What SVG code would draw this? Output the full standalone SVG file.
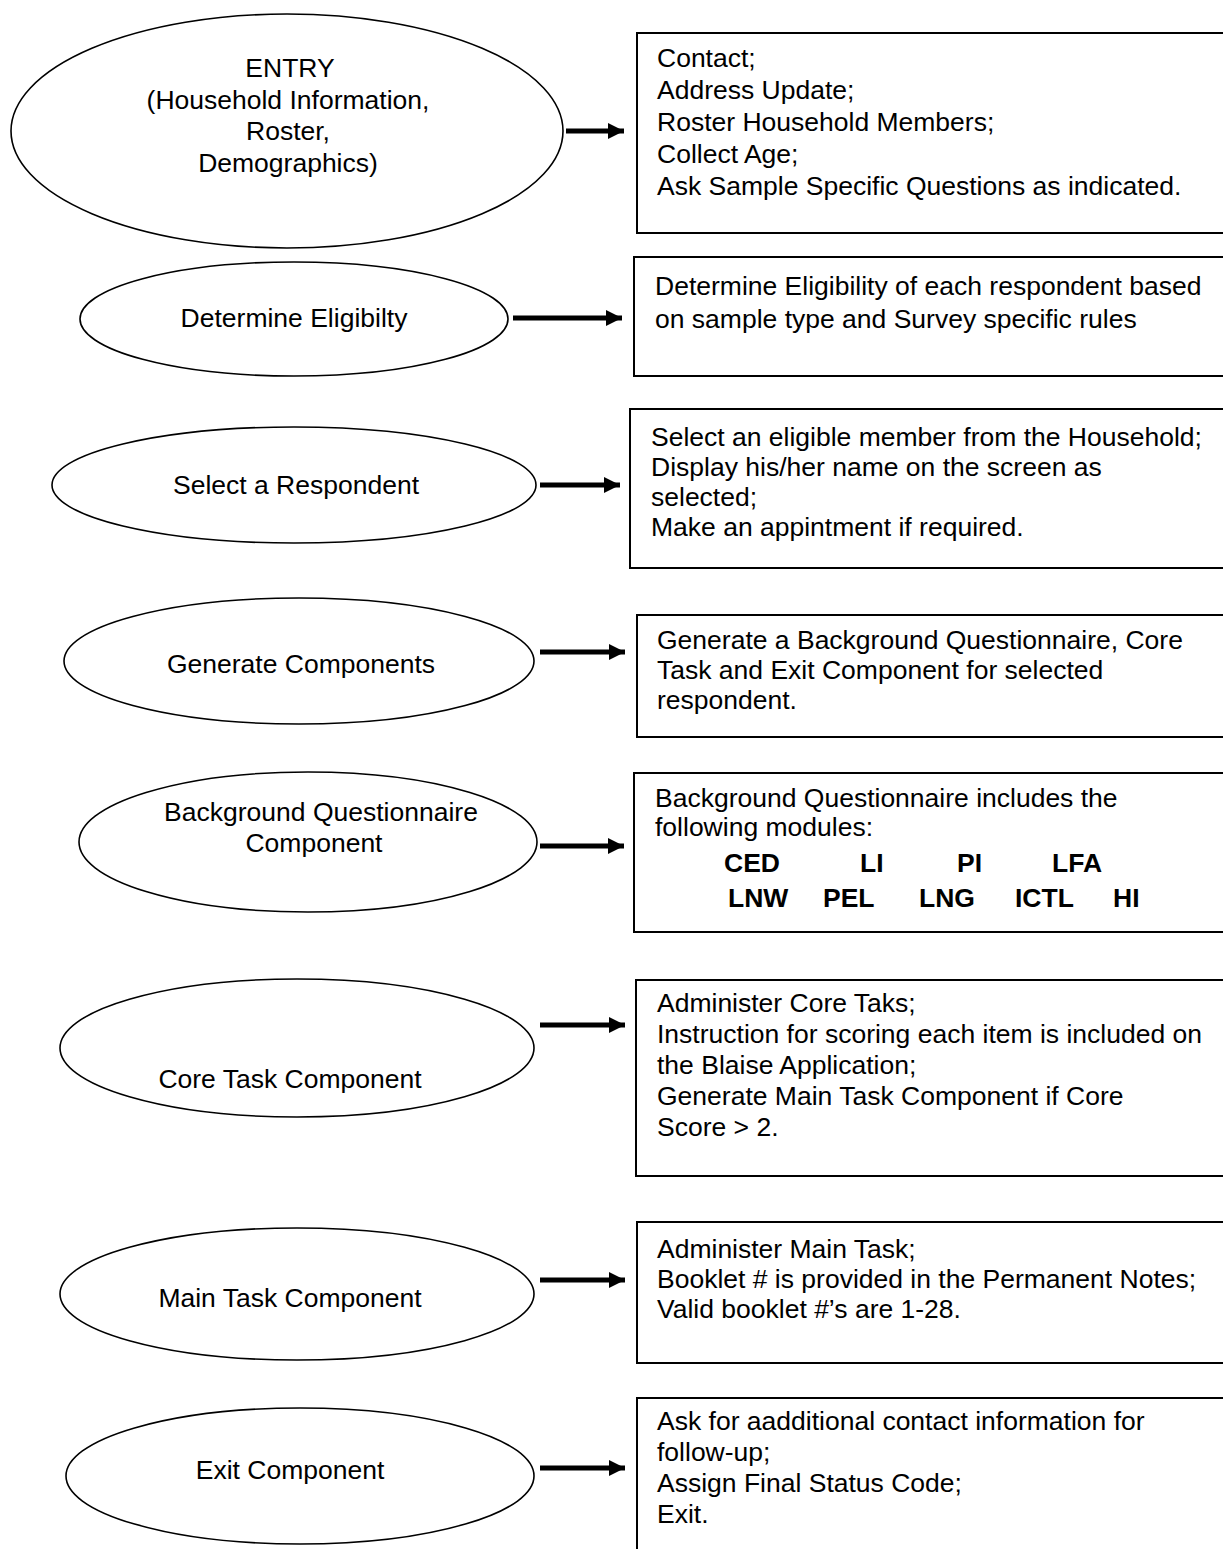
<svg xmlns="http://www.w3.org/2000/svg" width="1223" height="1549" viewBox="0 0 1223 1549">
<defs>
<marker id="ah" markerUnits="userSpaceOnUse" markerWidth="18" markerHeight="16" refX="16" refY="8" orient="auto">
<path d="M0,0 L16,8 L0,16 Z" fill="#000"/>
</marker>
<style>
.e{fill:#fff;stroke:#000;stroke-width:1.6}
.b{fill:#fff;stroke:#000;stroke-width:2}
.t{font-family:"Liberation Sans",Arial,sans-serif;font-size:26.5px;fill:#000}
.c{text-anchor:middle}
.bd{font-weight:bold}
.a{stroke:#000;stroke-width:5;fill:none}
</style>
</defs>
<rect width="1223" height="1549" fill="#fff"/>

<g id="n1">
<ellipse class="e" cx="287" cy="131" rx="276" ry="117"/>
<text class="t c" x="290" y="77">ENTRY</text>
<text class="t c" x="288" y="109">(Household Information,</text>
<text class="t c" x="288" y="140">Roster,</text>
<text class="t c" x="288" y="172">Demographics)</text>
</g>
<g id="b1">
<rect class="b" x="637" y="33" width="620" height="200"/>
<text class="t" x="657" y="67">Contact;</text>
<text class="t" x="657" y="99">Address Update;</text>
<text class="t" x="657" y="131">Roster Household Members;</text>
<text class="t" x="657" y="163">Collect Age;</text>
<text class="t" x="657" y="195">Ask Sample Specific Questions as indicated.</text>
</g>

<g id="n2">
<ellipse class="e" cx="294" cy="319" rx="214" ry="57"/>
<text class="t c" x="294" y="327">Determine Eligibilty</text>
</g>
<g id="b2">
<rect class="b" x="634" y="257" width="620" height="119"/>
<text class="t" x="655" y="295">Determine Eligibility of each respondent based</text>
<text class="t" x="655" y="328">on sample type and Survey specific rules</text>
</g>

<g id="n3">
<ellipse class="e" cx="294" cy="485" rx="242" ry="58"/>
<text class="t c" x="296" y="494">Select a Respondent</text>
</g>
<g id="b3">
<rect class="b" x="630" y="409" width="620" height="159"/>
<text class="t" x="651" y="446">Select an eligible member from the Household;</text>
<text class="t" x="651" y="476">Display his/her name on the screen as</text>
<text class="t" x="651" y="506">selected;</text>
<text class="t" x="651" y="536">Make an appintment if required.</text>
</g>

<g id="n4">
<ellipse class="e" cx="299" cy="661" rx="235" ry="63"/>
<text class="t c" x="301" y="673">Generate Components</text>
</g>
<g id="b4">
<rect class="b" x="637" y="615" width="620" height="122"/>
<text class="t" x="657" y="649">Generate a Background Questionnaire, Core</text>
<text class="t" x="657" y="679">Task and Exit Component for selected</text>
<text class="t" x="657" y="709">respondent.</text>
</g>

<g id="n5">
<ellipse class="e" cx="308" cy="842" rx="229" ry="70"/>
<text class="t c" x="321" y="821">Background Questionnaire</text>
<text class="t c" x="314" y="852">Component</text>
</g>
<g id="b5">
<rect class="b" x="634" y="773" width="620" height="159"/>
<text class="t" x="655" y="807">Background Questionnaire includes the</text>
<text class="t" x="655" y="836">following modules:</text>
<text class="t bd" y="872"><tspan x="724">CED</tspan><tspan x="860">LI</tspan><tspan x="957">PI</tspan><tspan x="1052">LFA</tspan></text>
<text class="t bd" y="907"><tspan x="728">LNW</tspan><tspan x="823">PEL</tspan><tspan x="919">LNG</tspan><tspan x="1015">ICTL</tspan><tspan x="1113">HI</tspan></text>
</g>

<g id="n6">
<ellipse class="e" cx="297" cy="1048" rx="237" ry="69"/>
<text class="t c" x="290" y="1088">Core Task Component</text>
</g>
<g id="b6">
<rect class="b" x="636" y="980" width="620" height="196"/>
<text class="t" x="657" y="1012">Administer Core Taks;</text>
<text class="t" x="657" y="1043">Instruction for scoring each item is included on</text>
<text class="t" x="657" y="1074">the Blaise Application;</text>
<text class="t" x="657" y="1105">Generate Main Task Component if Core</text>
<text class="t" x="657" y="1136">Score &gt; 2.</text>
</g>

<g id="n7">
<ellipse class="e" cx="297" cy="1294" rx="237" ry="66"/>
<text class="t c" x="290" y="1307">Main Task Component</text>
</g>
<g id="b7">
<rect class="b" x="637" y="1222" width="620" height="141"/>
<text class="t" x="657" y="1258">Administer Main Task;</text>
<text class="t" x="657" y="1288">Booklet # is provided in the Permanent Notes;</text>
<text class="t" x="657" y="1318">Valid booklet #’s are 1-28.</text>
</g>

<g id="n8">
<ellipse class="e" cx="300" cy="1476" rx="234" ry="68"/>
<text class="t c" x="290" y="1479">Exit Component</text>
</g>
<g id="b8">
<rect class="b" x="637" y="1398" width="620" height="200"/>
<text class="t" x="657" y="1430">Ask for aadditional contact information for</text>
<text class="t" x="657" y="1461">follow-up;</text>
<text class="t" x="657" y="1492">Assign Final Status Code;</text>
<text class="t" x="657" y="1523">Exit.</text>
</g>

<g id="connectors">
<line class="a" x1="566" y1="131" x2="624" y2="131" marker-end="url(#ah)"/>
<line class="a" x1="513" y1="318" x2="622" y2="318" marker-end="url(#ah)"/>
<line class="a" x1="540" y1="485" x2="620" y2="485" marker-end="url(#ah)"/>
<line class="a" x1="540" y1="652" x2="625" y2="652" marker-end="url(#ah)"/>
<line class="a" x1="540" y1="846" x2="624" y2="846" marker-end="url(#ah)"/>
<line class="a" x1="540" y1="1025" x2="625" y2="1025" marker-end="url(#ah)"/>
<line class="a" x1="540" y1="1280" x2="625" y2="1280" marker-end="url(#ah)"/>
<line class="a" x1="540" y1="1468" x2="625" y2="1468" marker-end="url(#ah)"/>
</g>
</svg>
